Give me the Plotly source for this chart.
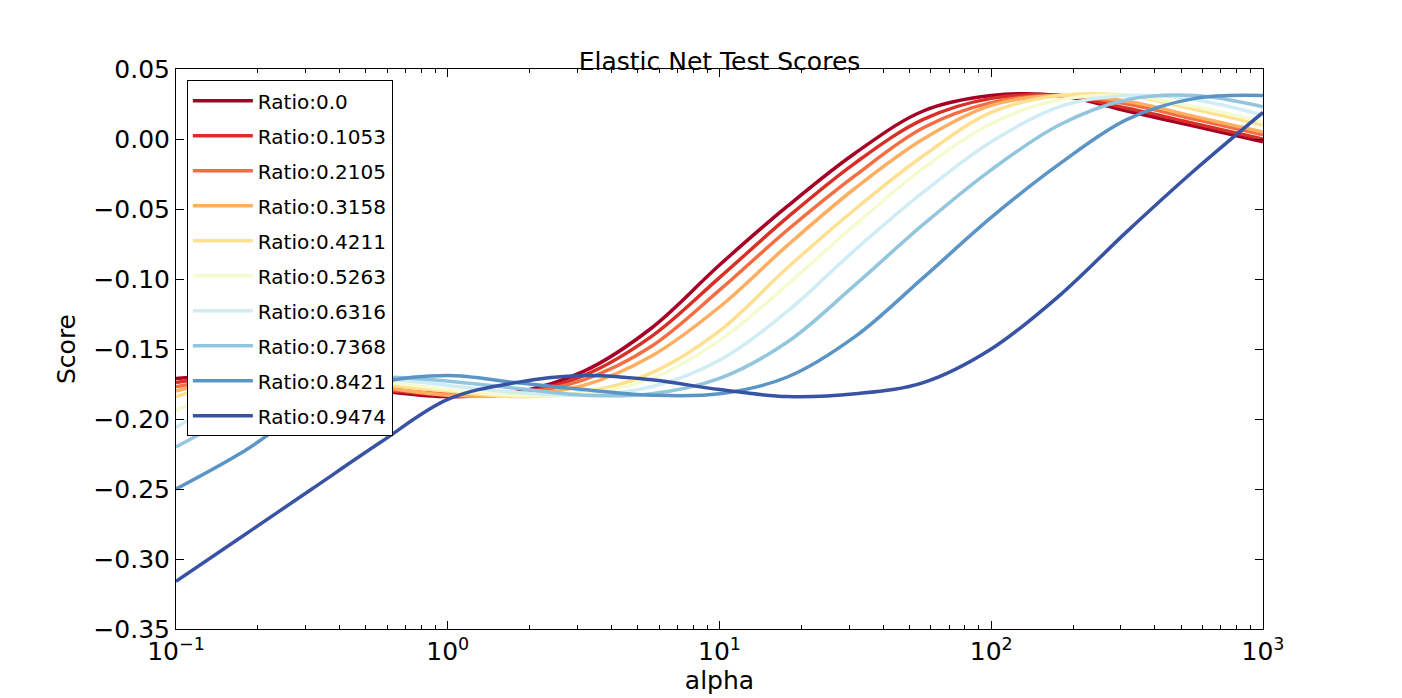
import plotly.graph_objects as go

alphas = [10**(-1 + 0.25*i) for i in range(17)]
ratios = ["0.0", "0.1053", "0.2105", "0.3158", "0.4211", "0.5263", "0.6316", "0.7368", "0.8421", "0.9474"]
colors = ["#a50026", "#d73027", "#f46d43", "#fdae61", "#fee090", "#f6fbcf", "#d0ecf4", "#92c5de", "#5b95c6", "#3953a4"]

s00 = [-0.171,-0.169,-0.175,-0.180,-0.184,-0.181,-0.166,-0.135,-0.090,-0.048,-0.010,0.020,0.031,0.031,0.020,0.009,-0.002]
s01 = [-0.174,-0.169,-0.174,-0.179,-0.183,-0.182,-0.169,-0.141,-0.099,-0.056,-0.017,0.014,0.029,0.031,0.022,0.011,0.000]
s02 = [-0.177,-0.170,-0.173,-0.178,-0.182,-0.182,-0.172,-0.148,-0.108,-0.065,-0.026,0.008,0.026,0.031,0.025,0.014,0.003]
s03 = [-0.180,-0.170,-0.171,-0.177,-0.183,-0.183,-0.176,-0.155,-0.120,-0.076,-0.035,0.000,0.024,0.031,0.027,0.016,0.005]
s04 = [-0.184,-0.171,-0.169,-0.175,-0.180,-0.184,-0.181,-0.167,-0.137,-0.092,-0.050,-0.012,0.019,0.031,0.031,0.021,0.010]
s05 = [-0.194,-0.175,-0.170,-0.173,-0.179,-0.183,-0.182,-0.171,-0.144,-0.104,-0.061,-0.021,0.011,0.028,0.031,0.023,0.012]
s06 = [-0.206,-0.181,-0.170,-0.171,-0.176,-0.181,-0.183,-0.177,-0.158,-0.123,-0.079,-0.038,-0.002,0.023,0.031,0.028,0.017]
s07 = [-0.220,-0.195,-0.175,-0.170,-0.173,-0.178,-0.183,-0.182,-0.171,-0.145,-0.104,-0.061,-0.022,0.010,0.028,0.031,0.023]
s08 = [-0.250,-0.223,-0.191,-0.174,-0.169,-0.174,-0.179,-0.183,-0.182,-0.170,-0.141,-0.099,-0.056,-0.018,0.014,0.029,0.031]
s09 = [-0.316,-0.283,-0.250,-0.217,-0.186,-0.174,-0.169,-0.172,-0.179,-0.184,-0.182,-0.174,-0.150,-0.112,-0.066,-0.022,0.019]
series = [s00, s01, s02, s03, s04, s05, s06, s07, s08, s09]

xtick_vals = [0.1, 1, 10, 100, 1000]
xtick_text = ["10<sup>−1</sup>", "10<sup>0</sup>", "10<sup>1</sup>", "10<sup>2</sup>", "10<sup>3</sup>"]
ytick_vals = [0.05, 0.0, -0.05, -0.10, -0.15, -0.20, -0.25, -0.30, -0.35]
ytick_text = ["0.05", "0.00", "−0.05", "−0.10", "−0.15", "−0.20", "−0.25", "−0.30", "−0.35"]
minor_vals = [m * 10**k for k in range(-1, 3) for m in range(2, 10)]

fig = go.Figure()
for i, (r, c, ys) in enumerate(zip(ratios, colors, series)):
    fig.add_trace(go.Scatter(x=alphas, y=ys, mode="lines", name="Ratio:" + r,
                             line=dict(color=c, width=3.5, shape="spline", smoothing=1.0),
                             legendgroup=str(i)))

axis_common = dict(showline=True, linecolor="black", linewidth=1, mirror="allticks",
                   ticks="inside", ticklen=8, tickcolor="black", showgrid=False, zeroline=False,
                   tickfont=dict(size=25, color="black"))
fig.update_xaxes(type="log", range=[-1, 3], tickvals=xtick_vals, ticktext=xtick_text,
                 minor=dict(ticks="inside", ticklen=4, tickvals=minor_vals, tickcolor="black"),
                 title=dict(text="alpha", font=dict(size=25, color="black"), standoff=2),
                 **axis_common)
fig.update_yaxes(range=[-0.35, 0.05], tickvals=ytick_vals, ticktext=ytick_text,
                 title=dict(text="Score", font=dict(size=25, color="black"), standoff=10),
                 **axis_common)
fig.update_layout(
    width=1402, height=698,
    margin=dict(l=168, r=147, t=61, b=77),
    paper_bgcolor="white", plot_bgcolor="white",
    font=dict(family="DejaVu Sans", color="black"),
    title=dict(text="Elastic Net Test Scores", x=0.5, xanchor="center", y=0.923, yanchor="middle",
               xref="paper", font=dict(size=25, color="black")),
    legend=dict(x=0.01, y=0.98, xanchor="left", yanchor="top", bgcolor="white",
                bordercolor="black", borderwidth=1, font=dict(size=20, color="black"),
                tracegroupgap=6, itemwidth=60),
)
fig.write_html("out.html")
